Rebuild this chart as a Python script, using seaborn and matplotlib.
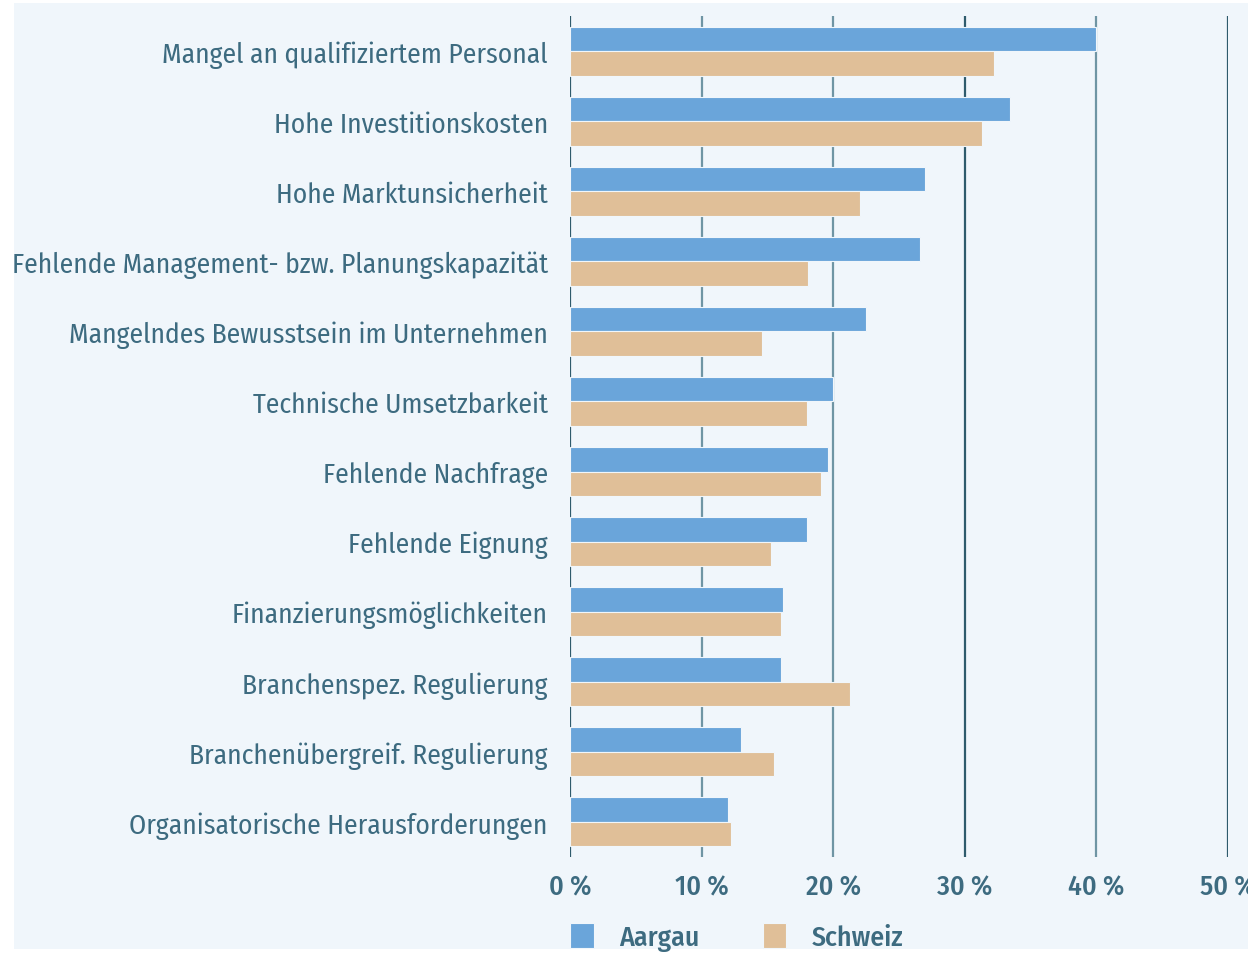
import pandas as pd
import matplotlib.pyplot as plt
import seaborn as sns
from matplotlib.ticker import FuncFormatter

# Daten (Anteil in %)
kategorien = [
    "Mangel an qualifiziertem Personal",
    "Hohe Investitionskosten",
    "Hohe Marktunsicherheit",
    "Fehlende Management- bzw. Planungskapazität",
    "Mangelndes Bewusstsein im Unternehmen",
    "Technische Umsetzbarkeit",
    "Fehlende Nachfrage",
    "Fehlende Eignung",
    "Finanzierungsmöglichkeiten",
    "Branchenspez. Regulierung",
    "Branchenübergreif. Regulierung",
    "Organisatorische Herausforderungen",
]
aargau = [40.0, 33.4, 27.0, 26.6, 22.5, 20.0, 19.6, 18.0, 16.2, 16.0, 13.0, 12.0]
schweiz = [32.2, 31.3, 22.0, 18.1, 14.6, 18.0, 19.1, 15.3, 16.0, 21.3, 15.5, 12.2]
serien = ["Aargau", "Schweiz"]
x_ticks = [0, 10, 20, 30, 40, 50]

farben = {"Aargau": "#6aa5da", "Schweiz": "#e0bf98"}
hintergrund = "#f0f6fb"
textfarbe = "#3d6b80"

df = pd.DataFrame({
    "Kategorie": kategorien * 2,
    "Wert": aargau + schweiz,
    "Region": [serien[0]] * len(kategorien) + [serien[1]] * len(kategorien),
})

sns.set_theme(style="white")
plt.rcParams["font.family"] = ["Fira Sans Condensed", "Open Sans Condensed",
                               "IBM Plex Sans Condensed", "DejaVu Sans"]

fig = plt.figure(figsize=(12.48, 9.54), dpi=100)
fig.patch.set_facecolor("white")
bg = fig.add_axes([14 / 1248, 4 / 954, 1 - 14 / 1248, 1 - 8 / 954], zorder=-5)
bg.set_facecolor(hintergrund)
bg.set_xticks([])
bg.set_yticks([])
for s in bg.spines.values():
    s.set_visible(False)

ax = fig.add_axes([570 / 1248, 96 / 954, 658 / 1248, (954 - 96 - 17) / 954])
ax.set_facecolor("none")

# Gitterlinien
for t in x_ticks:
    col = "#2f5b6c" if t in (0, 30, 50) else "#6f95a4"
    ax.axvline(t, color=col, lw=1.6, zorder=0)

sns.barplot(data=df, y="Kategorie", x="Wert", hue="Region", orient="h",
            palette=farben, saturation=1, width=0.7, edgecolor=hintergrund,
            linewidth=0.8, ax=ax, zorder=2)

ax.set_xlim(0, 50)
ax.set_ylim(11.5, -0.5)
ax.set_xticks(x_ticks)
ax.xaxis.set_major_formatter(FuncFormatter(lambda v, p: f"{int(v)} %"))
ax.tick_params(axis="x", length=0, pad=12, labelsize=20, labelcolor=textfarbe)
ax.tick_params(axis="y", length=0, pad=16, labelsize=19.8, labelcolor=textfarbe)
for lbl in ax.get_xticklabels():
    lbl.set_fontweight("medium")
for lbl in ax.get_yticklabels():
    lbl.set_y(lbl.get_position()[1])
ax.set_xlabel("")
ax.set_ylabel("")
for s in ax.spines.values():
    s.set_visible(False)

leg = ax.legend(loc="upper left", bbox_to_anchor=(0.0, -0.079), ncol=2,
                frameon=False, fontsize=20, handlelength=0.85, handleheight=1.0,
                columnspacing=2.3, handletextpad=0.9, borderpad=0,
                borderaxespad=0)
for txt in leg.get_texts():
    txt.set_color(textfarbe)
    txt.set_fontweight("medium")

fig.savefig("out.png", dpi=100, facecolor="white")
